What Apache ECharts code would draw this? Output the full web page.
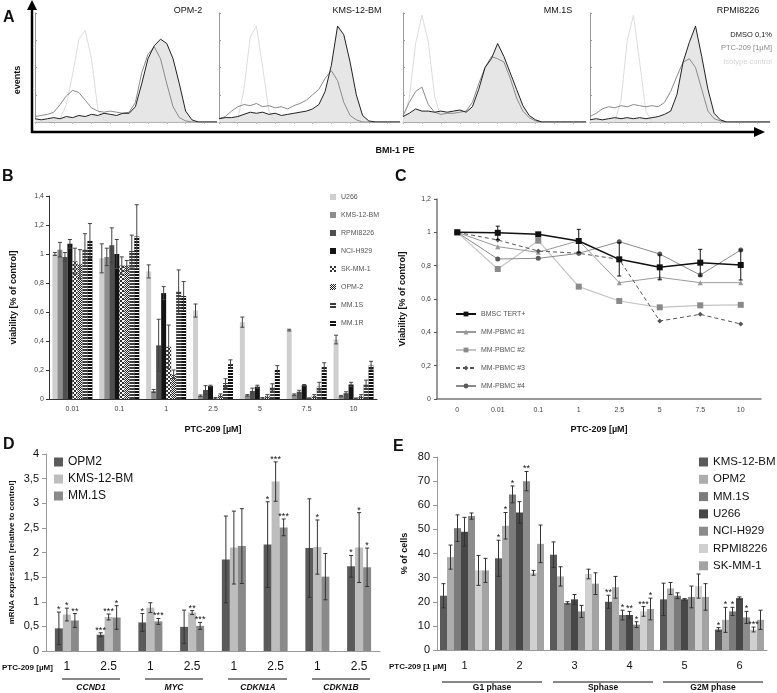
<!DOCTYPE html>
<html>
<head>
<meta charset="utf-8">
<script src="https://cdn.jsdelivr.net/npm/echarts@6/dist/echarts.min.js"></script>
<style>
  html, body { margin: 0; padding: 0; background: #fff; }
  #main { width: 777px; height: 693px; }
</style>
</head>
<body>
<div id="main"></div>
<script>
var FONT = 'Liberation Sans, Arial, sans-serif';

// ---- A: BMI-1 PE histograms (30 bins per panel) ----
var histBins = [0,1,2,3,4,5,6,7,8,9,10,11,12,13,14,15,16,17,18,19,20,21,22,23,24,25,26,27,28,29];
var histTitles = ['OPM-2', 'KMS-12-BM', 'MM.1S', 'RPMI8226'];
var isoOPM  = [0,0,0,1,3,16,44,76,84,58,12,2,0,0,0,0,0,0,0,0,0,0,0,0,0,0,0,0,0,0];
var dmsoOPM = [3,2,3,4,3,5,4,6,5,7,6,8,7,6,8,8,14,35,58,70,76,72,58,35,10,2,0,0,0,0];
var ptcOPM  = [5,6,7,9,16,24,29,27,20,13,10,9,10,9,8,9,18,45,62,69,58,35,14,4,1,0,0,0,0,0];
var isoKMS  = [0,0,0,2,30,78,88,50,10,1,0,0,0,0,0,0,0,0,0,0,0,0,0,0,0,0,0,0,0,0];
var dmsoKMS = [3,4,4,5,7,9,8,9,7,8,6,7,8,9,10,12,16,28,52,88,80,55,25,6,1,0,0,0,0,0];
var ptcKMS  = [3,5,10,14,16,15,17,14,15,13,14,12,15,17,20,25,30,40,47,38,18,6,2,0,0,0,0,0,0,0];
var isoMM   = [0,22,72,98,74,24,4,0,0,0,0,0,0,0,0,0,0,0,0,0,0,0,0,0,0,0,0,0,0,0];
var dmsoMM  = [5,8,12,10,10,9,10,9,10,11,9,14,30,50,58,72,60,45,30,15,6,2,0,0,0,0,0,0,0,0];
var ptcMM   = [6,18,28,32,16,9,7,8,8,9,10,18,35,50,60,58,55,40,22,10,4,1,0,0,0,0,0,0,0,0];
var isoRPMI = [0,0,0,0,0,20,75,98,55,10,0,0,0,0,0,0,0,0,0,0,0,0,0,0,0,0,0,0,0,0];
var dmsoRPMI= [2,3,2,3,4,3,4,3,4,3,4,5,7,10,25,55,73,88,60,30,8,2,0,0,0,0,0,0,0,0];
var ptcRPMI = [5,8,12,14,13,15,14,16,15,14,15,14,18,28,42,55,58,50,30,10,3,1,0,0,0,0,0,0,0,0];

// ---- B: viability of cell lines ----
var doseB = ['0.01', '0.1', '1', '2.5', '5', '7.5', '10'];
var cellB = ['U266', 'KMS-12-BM', 'RPMI8226', 'NCI-H929', 'SK-MM-1', 'OPM-2', 'MM.1S', 'MM.1R'];
var u266B = [1.00, 0.97, 0.88, 0.61, 0.53, 0.475, 0.41];
var kmsB  = [1.03, 0.98, 0.055, 0.023, 0.025, 0.03, 0.02];
var rpmiB = [0.98, 1.06, 0.37, 0.062, 0.055, 0.05, 0.04];
var nciB  = [1.07, 1.00, 0.73, 0.09, 0.085, 0.095, 0.10];
var skB   = [0.95, 0.92, 0.36, 0.005, 0.005, 0.005, 0.004];
var opmB  = [0.93, 0.92, 0.17, 0.025, 0.02, 0.02, 0.02];
var mm1sB = [1.03, 1.02, 0.74, 0.11, 0.08, 0.085, 0.10];
var mm1rB = [1.09, 1.12, 0.71, 0.24, 0.20, 0.22, 0.23];
var u266BErr = [0.01, 0.10, 0.045, 0.045, 0.035, 0.006, 0.03];
var kmsBErr  = [0.05, 0.06, 0.01, 0.005, 0.005, 0.005, 0.005];
var rpmiBErr = [0.03, 0.12, 0.18, 0.03, 0.02, 0.01, 0.01];
var nciBErr  = [0.03, 0.10, 0.045, 0.005, 0.01, 0.005, 0.015];
var skBErr   = [0.09, 0.06, 0.15, 0.005, 0.005, 0.003, 0.003];
var opmBErr  = [0.10, 0.035, 0.03, 0.01, 0.01, 0.01, 0.01];
var mm1sBErr = [0.11, 0.11, 0.15, 0.03, 0.025, 0.03, 0.03];
var mm1rBErr = [0.12, 0.22, 0.10, 0.03, 0.03, 0.03, 0.03];

// ---- C: primary cells ----
var doseC = ['0', '0.01', '0.1', '1', '2.5', '5', '7.5', '10'];
var cellC = ['BMSC TERT+', 'MM-PBMC #1', 'MM-PBMC #2', 'MM-PBMC #3', 'MM-PBMC #4'];
var bmscC   = [1.0, 0.997, 0.988, 0.948, 0.838, 0.79, 0.818, 0.804];
var bmscErr = [0, 0.04, 0.01, 0.07, 0.10, 0.075, 0.08, 0.09];
var pbmc1C  = [1.0, 0.914, 0.88, 0.95, 0.698, 0.73, 0.698, 0.698];
var pbmc2C  = [1.0, 0.78, 0.95, 0.674, 0.588, 0.55, 0.562, 0.565];
var pbmc3C  = [1.0, 0.954, 0.888, 0.874, 0.838, 0.468, 0.508, 0.45];
var pbmc4C  = [1.0, 0.84, 0.844, 0.874, 0.944, 0.87, 0.744, 0.894];

// ---- D: mRNA expression ----
var geneD = ['CCND1 1', 'CCND1 2.5', 'MYC 1', 'MYC 2.5', 'CDKN1A 1', 'CDKN1A 2.5', 'CDKN1B 1', 'CDKN1B 2.5'];
var doseD = ['1', '2.5', '1', '2.5', '1', '2.5', '1', '2.5'];
var cellD = ['OPM2', 'KMS-12-BM', 'MM.1S'];
var opm2D = [0.46, 0.33, 0.58, 0.49, 1.86, 2.16, 2.09, 1.72];
var kmsD  = [0.74, 0.69, 0.88, 0.78, 2.10, 3.44, 2.11, 2.10];
var mm1sD = [0.62, 0.68, 0.60, 0.51, 2.13, 2.51, 1.51, 1.70];
var opm2DErr = [0.33, 0.04, 0.18, 0.34, 0.88, 0.87, 1.00, 0.22];
var kmsDErr  = [0.13, 0.06, 0.10, 0.04, 0.74, 0.40, 0.55, 0.71];
var mm1sDErr = [0.14, 0.24, 0.06, 0.07, 0.76, 0.17, 0.47, 0.39];
var opm2DStar = ['*', '***', '*', '', '', '*', '', '*'];
var kmsDStar  = ['*', '***', '', '**', '', '***', '*', '*'];
var mm1sDStar = ['**', '*', '***', '***', '', '***', '', '*'];

// ---- E: cell cycle ----
var catE = ['1', '2', '3', '4', '5', '6'];
var cellE = ['KMS-12-BM', 'OPM2', 'MM.1S', 'U266', 'NCI-H929', 'RPMI8226', 'SK-MM-1'];
var kmsE  = [22.5, 38, 39.5, 20, 21, 8.5];
var opm2E = [38.5, 51.5, 30.5, 26, 25.5, 12.5];
var mm1sE = [50.5, 64.5, 19.5, 14.5, 22.5, 16];
var u266E = [49, 57, 21, 14.5, 21, 21.5];
var nciE  = [55.5, 70, 16, 10.5, 22, 13.5];
var rpmiE = [33, 32, 31.5, 16, 26.5, 8.5];
var skE   = [33, 44, 27.5, 17, 22, 12.5];
var kmsEErr  = [5, 7.5, 5.3, 2.7, 6.7, 0.8];
var opm2EErr = [5, 5.5, 4, 4.5, 2.5, 5.2];
var mm1sEErr = [5.5, 3.5, 0.5, 2, 1.2, 1.7];
var u266EErr = [6, 4.5, 2, 1.5, 0.3, 0.5];
var nciEErr  = [1.3, 4, 2.5, 1.2, 4.5, 2.5];
var rpmiEErr = [6.2, 1, 2, 2, 5, 1];
var skEErr   = [5, 7.8, 4.5, 4.5, 5.5, 4];
var kmsEStar  = ['', '*', '', '**', '', '*'];
var opm2EStar = ['', '*', '', '', '', '*'];
var mm1sEStar = ['', '*', '', '*', '', '*'];
var u266EStar = ['', '', '', '**', '', ''];
var nciEStar  = ['', '**', '', '*', '', '*'];
var rpmiEStar = ['', '', '', '***', '', '***'];
var skEStar   = ['', '', '', '*', '', ''];

var chart = echarts.init(document.getElementById('main'));

// legends match series by name across the whole chart, so each panel gets its own suffix
var tagD = '\u200B';
var tagE = '\u200B\u200B';

// error bars drawn next to bar #idx of a group of n bars
function errBars(ax, vals, errs, idx, n, barW, color, stars, starSize) {
    return {
        type: 'custom', xAxisIndex: ax, yAxisIndex: ax, z: 10, silent: true,
        data: vals.map(function (v, i) { return [i, v - errs[i], v + errs[i]]; }),
        renderItem: function (params, api) {
            if (api.value(1) === api.value(2)) return null;
            var hi = api.coord([api.value(0), api.value(2)]);
            var lo = api.coord([api.value(0), api.value(1)]);
            var x = hi[0] + (idx - (n - 1) / 2) * barW;
            var st = { stroke: color, lineWidth: 1 };
            var kids = [
                { type: 'line', shape: { x1: x, y1: lo[1], x2: x, y2: hi[1] }, style: st },
                { type: 'line', shape: { x1: x - 2, y1: hi[1], x2: x + 2, y2: hi[1] }, style: st },
                { type: 'line', shape: { x1: x - 2, y1: lo[1], x2: x + 2, y2: lo[1] }, style: st }
            ];
            var s = stars && stars[params.dataIndex];
            if (s) {
                kids.push({ type: 'text', style: { text: s, x: x, y: hi[1] + 2, align: 'center', verticalAlign: 'bottom',
                    fontSize: starSize, fontFamily: FONT, fill: '#111' } });
            }
            return { type: 'group', children: kids };
        }
    };
}

var commaFmt = function (v) { return String(+v.toFixed(1)).replace('.', ','); };

// grids: 0-3 histograms, 4 B, 5 C, 6 D, 7 E
var grids = [
    { left: 35, top: 13, width: 182, height: 109 },
    { left: 219, top: 13, width: 181, height: 109 },
    { left: 403, top: 13, width: 183, height: 109 },
    { left: 590, top: 13, width: 180, height: 109 },
    { left: 49, top: 196, width: 328, height: 203 },
    { left: 437, top: 199, width: 324, height: 200 },
    { left: 46, top: 454, width: 334, height: 197 },
    { left: 437, top: 457, width: 330, height: 193 }
];
grids.forEach(function (g) { g.outerBoundsMode = 'none'; g.containLabel = false; });

var xAxes = [], yAxes = [];
for (var k = 0; k < 4; k++) {
    xAxes.push({ gridIndex: k, type: 'category', boundaryGap: false, data: histBins,
        axisLine: { lineStyle: { color: '#aaa', width: 1 } },
        axisTick: { show: true, length: 2, lineStyle: { color: '#bbb' } },
        axisLabel: { show: false }, splitLine: { show: false } });
    yAxes.push({ gridIndex: k, type: 'value', min: 0, max: 100, interval: 25,
        axisLine: { show: true, lineStyle: { color: '#999', width: 1 } },
        axisTick: { show: true, inside: true, length: 2, lineStyle: { color: '#999' } },
        axisLabel: { show: false }, splitLine: { show: false } });
}
// B
xAxes.push({ gridIndex: 4, type: 'category', data: doseB,
    name: 'PTC-209 [µM]', nameLocation: 'middle', nameGap: 26,
    nameTextStyle: { fontSize: 9, fontWeight: 'bold', color: '#111', fontFamily: FONT },
    axisLine: { lineStyle: { color: '#333' } }, axisTick: { length: 3, lineStyle: { color: '#333' } },
    axisLabel: { fontSize: 7, color: '#444', margin: 7, fontFamily: FONT } });
yAxes.push({ gridIndex: 4, type: 'value', min: 0, max: 1.4, interval: 0.2,
    name: 'viability [% of control]', nameLocation: 'middle', nameGap: 31, nameRotate: 90,
    nameTextStyle: { fontSize: 9, fontWeight: 'bold', color: '#111', fontFamily: FONT },
    axisLine: { show: true, lineStyle: { color: '#333' } }, axisTick: { show: true, length: 3, lineStyle: { color: '#333' } },
    axisLabel: { fontSize: 7, color: '#444', margin: 5, formatter: commaFmt, fontFamily: FONT }, splitLine: { show: false } });
// C
xAxes.push({ gridIndex: 5, type: 'category', data: doseC,
    name: 'PTC-209 [µM]', nameLocation: 'middle', nameGap: 26,
    nameTextStyle: { fontSize: 9, fontWeight: 'bold', color: '#111', fontFamily: FONT },
    axisLine: { lineStyle: { color: '#777', width: 1.5 } }, axisTick: { length: 3, lineStyle: { color: '#555' } },
    axisLabel: { fontSize: 7, color: '#444', margin: 8, fontFamily: FONT } });
yAxes.push({ gridIndex: 5, type: 'value', min: 0, max: 1.2, interval: 0.2,
    name: 'Viability [% of control]', nameLocation: 'middle', nameGap: 30, nameRotate: 90,
    nameTextStyle: { fontSize: 9, fontWeight: 'bold', color: '#111', fontFamily: FONT },
    axisLine: { show: true, lineStyle: { color: '#777', width: 1.5 } }, axisTick: { show: true, length: 3, lineStyle: { color: '#555' } },
    axisLabel: { fontSize: 7, color: '#444', margin: 6, formatter: commaFmt, fontFamily: FONT }, splitLine: { show: false } });
// D
xAxes.push({ gridIndex: 6, type: 'category', data: geneD,
    axisLine: { lineStyle: { color: '#999' } }, axisTick: { length: 4, lineStyle: { color: '#999' } },
    axisLabel: { fontSize: 12, color: '#111', margin: 10, fontFamily: FONT,
        formatter: function (v, i) { return doseD[i]; } } });
yAxes.push({ gridIndex: 6, type: 'value', min: 0, max: 4, interval: 0.5,
    name: 'mRNA expression [relative to control]', nameLocation: 'middle', nameGap: 30, nameRotate: 90,
    nameTextStyle: { fontSize: 8, fontWeight: 'bold', color: '#111', fontFamily: FONT },
    axisLine: { show: true, lineStyle: { color: '#999' } }, axisTick: { show: true, length: 4, lineStyle: { color: '#999' } },
    axisLabel: { fontSize: 11, color: '#111', margin: 7, formatter: commaFmt, fontFamily: FONT }, splitLine: { show: false } });
// E
xAxes.push({ gridIndex: 7, type: 'category', data: catE,
    axisLine: { lineStyle: { color: '#999' } }, axisTick: { length: 4, lineStyle: { color: '#999' } },
    axisLabel: { fontSize: 11, color: '#111', margin: 10, fontFamily: FONT } });
yAxes.push({ gridIndex: 7, type: 'value', min: 0, max: 80, interval: 10,
    name: '% of cells', nameLocation: 'middle', nameGap: 28, nameRotate: 90,
    nameTextStyle: { fontSize: 9, fontWeight: 'bold', color: '#111', fontFamily: FONT },
    axisLine: { show: true, lineStyle: { color: '#999' } }, axisTick: { show: true, length: 4, lineStyle: { color: '#999' } },
    axisLabel: { fontSize: 11, color: '#111', margin: 7, fontFamily: FONT }, splitLine: { show: false } });

var series = [];

// A histograms
var histSets = [
    [isoOPM, dmsoOPM, ptcOPM], [isoKMS, dmsoKMS, ptcKMS],
    [isoMM, dmsoMM, ptcMM], [isoRPMI, dmsoRPMI, ptcRPMI]
];
histSets.forEach(function (set, k) {
    var base = { type: 'line', xAxisIndex: k, yAxisIndex: k, showSymbol: false, silent: true, animation: false };
    series.push(Object.assign({}, base, { data: set[1], lineStyle: { width: 0 }, areaStyle: { color: '#e6e6e6', opacity: 1 }, z: 1 }));
    series.push(Object.assign({}, base, { data: set[0], lineStyle: { color: '#dcdcdc', width: 1 }, z: 2 }));
    series.push(Object.assign({}, base, { data: set[2], lineStyle: { color: '#8a8a8a', width: 1 }, z: 3 }));
    series.push(Object.assign({}, base, { data: set[1], lineStyle: { color: '#222', width: 1 }, z: 4 }));
});

// B bars
var stripeDecal = { symbol: 'rect', symbolSize: 1, color: '#fff', dashArrayX: [1, 0], dashArrayY: [1, 2] };
var checkDecal = { symbol: 'rect', symbolSize: 1, color: '#fff', dashArrayX: [[2, 2], [0, 2, 2, 0]], dashArrayY: [2, 0] };
var boxDecal = { symbol: 'rect', symbolSize: 1, color: '#222', dashArrayX: [[1, 1], [0, 1, 1, 0]], dashArrayY: [1, 0] };
var bDefs = [
    [u266B, u266BErr, { color: '#cfcfcf' }],
    [kmsB, kmsBErr, { color: '#8c8c8c' }],
    [rpmiB, rpmiBErr, { color: '#4e4e4e' }],
    [nciB, nciBErr, { color: '#141414' }],
    [skB, skBErr, { color: '#333', decal: checkDecal }],
    [opmB, opmBErr, { color: '#f2f2f2', decal: boxDecal }],
    [mm1sB, mm1sBErr, { color: '#3c3c3c', decal: stripeDecal }],
    [mm1rB, mm1rBErr, { color: '#111', decal: stripeDecal }]
];
bDefs.forEach(function (d, i) {
    series.push({ type: 'bar', name: cellB[i], xAxisIndex: 4, yAxisIndex: 4, data: d[0],
        barWidth: 5, barGap: '0%', itemStyle: d[2] });
});
bDefs.forEach(function (d, i) {
    series.push(errBars(4, d[0], d[1], i, 8, 5, '#444', null, 8));
});

// C lines
series.push({ type: 'line', name: cellC[0], xAxisIndex: 5, yAxisIndex: 5, data: bmscC,
    symbol: 'rect', symbolSize: 6, itemStyle: { color: '#111' }, lineStyle: { color: '#111', width: 1.5 }, z: 6 });
series.push({ type: 'line', name: cellC[1], xAxisIndex: 5, yAxisIndex: 5, data: pbmc1C,
    symbol: 'triangle', symbolSize: 5, itemStyle: { color: '#999' }, lineStyle: { color: '#999', width: 1 }, z: 4 });
series.push({ type: 'line', name: cellC[2], xAxisIndex: 5, yAxisIndex: 5, data: pbmc2C,
    symbol: 'rect', symbolSize: 6, itemStyle: { color: '#8a8a8a' }, lineStyle: { color: '#c4c4c4', width: 1.2 }, z: 3 });
series.push({ type: 'line', name: cellC[3], xAxisIndex: 5, yAxisIndex: 5, data: pbmc3C,
    symbol: 'diamond', symbolSize: 5, itemStyle: { color: '#555' }, lineStyle: { color: '#555', width: 1, type: [4, 3] }, z: 4 });
series.push({ type: 'line', name: cellC[4], xAxisIndex: 5, yAxisIndex: 5, data: pbmc4C,
    symbol: 'circle', symbolSize: 5, itemStyle: { color: '#5a5a5a' }, lineStyle: { color: '#8a8a8a', width: 1 }, z: 4 });
series.push(errBars(5, bmscC, bmscErr, 0, 1, 0, '#111', null, 8));

// D bars
var dDefs = [
    [opm2D, opm2DErr, opm2DStar, '#5a5a5a'],
    [kmsD, kmsDErr, kmsDStar, '#bdbdbd'],
    [mm1sD, mm1sDErr, mm1sDStar, '#8a8a8a']
];
dDefs.forEach(function (d, i) {
    series.push({ type: 'bar', name: cellD[i] + tagD, xAxisIndex: 6, yAxisIndex: 6, data: d[0],
        barWidth: 8, barGap: '0%', itemStyle: { color: d[3] } });
});
dDefs.forEach(function (d, i) {
    series.push(errBars(6, d[0], d[1], i, 3, 8, '#333', d[2], 9));
});

// E bars
var eDefs = [
    [kmsE, kmsEErr, kmsEStar, '#5a5a5a'],
    [opm2E, opm2EErr, opm2EStar, '#adadad'],
    [mm1sE, mm1sEErr, mm1sEStar, '#7b7b7b'],
    [u266E, u266EErr, u266EStar, '#474747'],
    [nciE, nciEErr, nciEStar, '#8c8c8c'],
    [rpmiE, rpmiEErr, rpmiEStar, '#d0d0d0'],
    [skE, skEErr, skEStar, '#a3a3a3']
];
eDefs.forEach(function (d, i) {
    series.push({ type: 'bar', name: cellE[i] + tagE, xAxisIndex: 7, yAxisIndex: 7, data: d[0],
        barWidth: 7, barGap: '0%', itemStyle: { color: d[3] } });
});
eDefs.forEach(function (d, i) {
    series.push(errBars(7, d[0], d[1], i, 7, 7, '#333', d[2], 9));
});

var legendText = function (size, lh, color) {
    return { fontSize: size, lineHeight: lh, color: color, fontFamily: FONT };
};

function txt(x, y, s, size, opts) {
    opts = opts || {};
    return { type: 'text', x: x, y: y, rotation: opts.rot || 0, silent: true,
        style: { text: s, fontSize: size, fontFamily: FONT, fontWeight: opts.bold ? 'bold' : 'normal',
            fontStyle: opts.italic ? 'italic' : 'normal', fill: opts.color || '#111',
            align: opts.align || 'left', verticalAlign: 'middle' } };
}
function hline(x1, x2, y, w) {
    return { type: 'line', silent: true, shape: { x1: x1, y1: y, x2: x2, y2: y }, style: { stroke: '#111', lineWidth: w || 1 } };
}

var graphics = [
    txt(3, 18, 'A', 16, { bold: true }),
    txt(2, 177, 'B', 16, { bold: true }),
    txt(395, 177, 'C', 16, { bold: true }),
    txt(3, 445, 'D', 16, { bold: true }),
    txt(393, 447, 'E', 16, { bold: true }),
    // flow axes
    { type: 'line', silent: true, shape: { x1: 32, y1: 133, x2: 32, y2: 8 }, style: { stroke: '#000', lineWidth: 2.5 } },
    { type: 'polygon', silent: true, shape: { points: [[27, 10], [37, 10], [32, 0]] }, style: { fill: '#000' } },
    { type: 'line', silent: true, shape: { x1: 31, y1: 132, x2: 756, y2: 132 }, style: { stroke: '#000', lineWidth: 2.5 } },
    { type: 'polygon', silent: true, shape: { points: [[754, 127], [754, 137], [765, 132]] }, style: { fill: '#000' } },
    txt(18, 80, 'events', 9, { bold: true, align: 'center', rot: Math.PI / 2 }),
    txt(395, 151, 'BMI-1 PE', 9, { bold: true, align: 'center' }),
    txt(188, 11, histTitles[0], 9, { align: 'center' }),
    txt(357, 11, histTitles[1], 9, { align: 'center' }),
    txt(558, 11, histTitles[2], 9, { align: 'center' }),
    txt(738, 11, histTitles[3], 9, { align: 'center' }),
    txt(772, 35, 'DMSO 0,1%', 7.5, { align: 'right', color: '#222' }),
    txt(772, 48, 'PTC-209 [1µM]', 7.5, { align: 'right', color: '#8a8a8a' }),
    txt(772, 62, 'Isotype control', 7.5, { align: 'right', color: '#d6d6d6' }),
    // D x labels
    txt(2, 668, 'PTC-209 [µM]', 8, { bold: true }),
    hline(62, 120, 679), hline(145, 203, 679), hline(228, 287, 679), hline(312, 370, 679),
    txt(91, 688, 'CCND1', 8.5, { bold: true, italic: true, align: 'center' }),
    txt(174, 688, 'MYC', 8.5, { bold: true, italic: true, align: 'center' }),
    txt(258, 688, 'CDKN1A', 8.5, { bold: true, italic: true, align: 'center' }),
    txt(341, 688, 'CDKN1B', 8.5, { bold: true, italic: true, align: 'center' }),
    // E x labels
    txt(389, 667, 'PTC-209 [1 µM]', 8, { bold: true }),
    hline(442, 542, 682), hline(553, 653, 682), hline(663, 763, 682),
    txt(492, 688, 'G1 phase', 8.5, { bold: true, align: 'center' }),
    txt(603, 688, 'Sphase', 8.5, { bold: true, align: 'center' }),
    txt(713, 688, 'G2M phase', 8.5, { bold: true, align: 'center' })
];

chart.setOption({
    animation: false,
    textStyle: { fontFamily: FONT },
    grid: grids,
    xAxis: xAxes,
    yAxis: yAxes,
    legend: [
        { data: cellB, orient: 'vertical', left: 325, top: 188, itemWidth: 6, itemHeight: 6, itemGap: 10,
          icon: 'rect', selectedMode: false, textStyle: legendText(7, 8, '#555') },
        { data: cellC, orient: 'vertical',
          left: 450, top: 305, itemWidth: 20, itemHeight: 6, itemGap: 10, selectedMode: false,
          textStyle: legendText(7, 8, '#555') },
        { data: cellD.map(function (n) { return n + tagD; }), orient: 'vertical', left: 49, top: 450,
          itemWidth: 9, itemHeight: 9, itemGap: 3, icon: 'rect', selectedMode: false,
          textStyle: legendText(12, 14, '#111') },
        { data: cellE.map(function (n) { return n + tagE; }), orient: 'vertical', left: 694, top: 450,
          itemWidth: 9, itemHeight: 9, itemGap: 3.3, icon: 'rect', selectedMode: false,
          textStyle: legendText(11.5, 14, '#111') }
    ],
    graphic: graphics,
    series: series
});
</script>
</body>
</html>
